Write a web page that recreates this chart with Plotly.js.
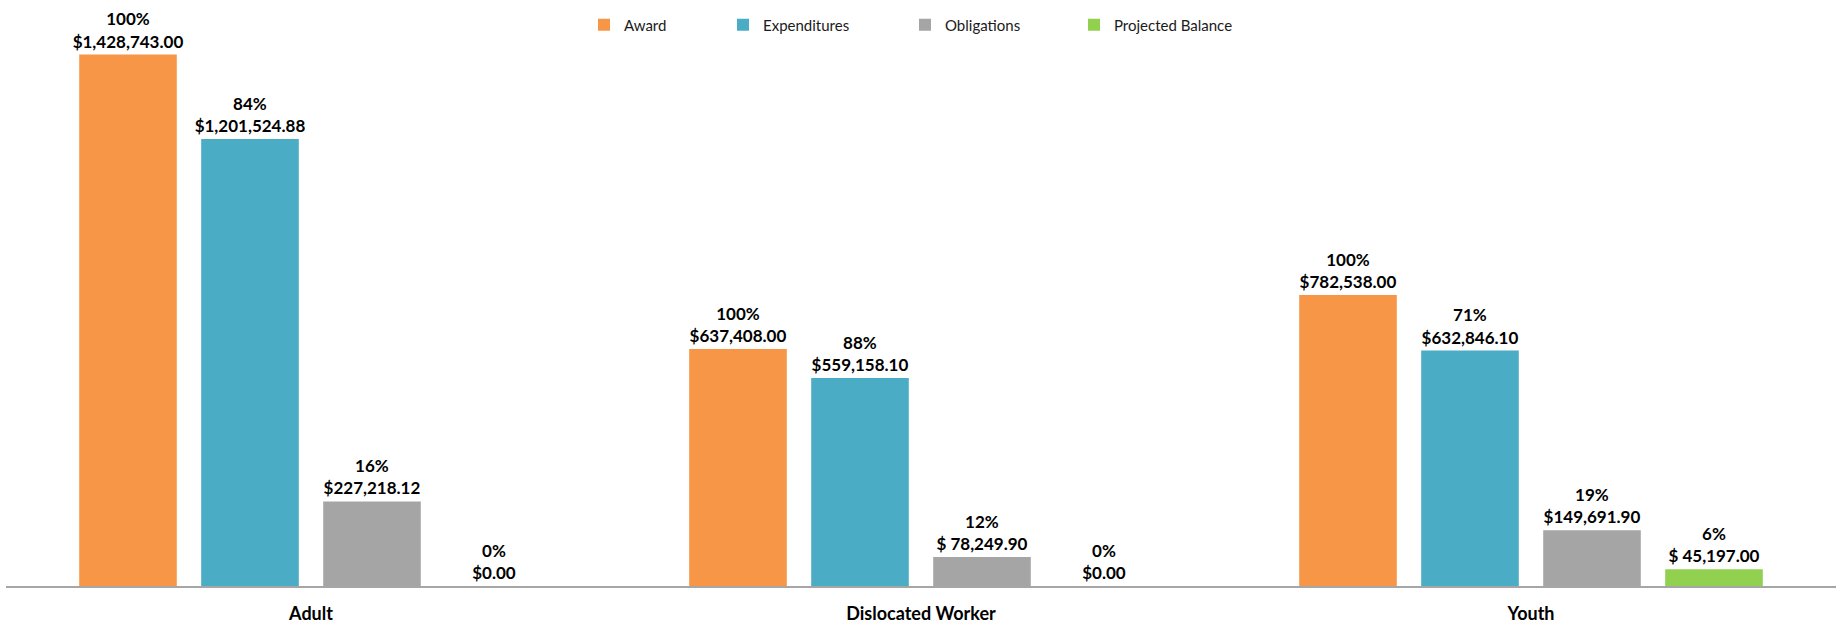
<!DOCTYPE html>
<html>
<head>
<meta charset="utf-8">
<script src="https://cdn.plot.ly/plotly-3.0.1.min.js"></script>
<style>html,body{margin:0;padding:0;background:#fff;}#chart{width:1839px;height:626px;}</style>
</head>
<body>
<div id="chart"></div>
<script>
const categories = ['Adult', 'Dislocated Worker', 'Youth'];
const seriesNames = ['Award', 'Expenditures', 'Obligations', 'Projected Balance'];
const award = [1428743.00, 637408.00, 782538.00];
const expenditures = [1201524.88, 559158.10, 632846.10];
const obligations = [227218.12, 78249.90, 149691.90];
const projectedBalance = [0.00, 0.00, 45197.00];
const awardPct = ['100%', '100%', '100%'];
const expendituresPct = ['84%', '88%', '71%'];
const obligationsPct = ['16%', '12%', '19%'];
const projectedBalancePct = ['0%', '0%', '6%'];
const awardLbl = ['$1,428,743.00', '$637,408.00', '$782,538.00'];
const expendituresLbl = ['$1,201,524.88', '$559,158.10', '$632,846.10'];
const obligationsLbl = ['$227,218.12', '$ 78,249.90', '$149,691.90'];
const projectedBalanceLbl = ['$0.00', '$0.00', '$ 45,197.00'];

const colors = ['#F79646', '#4BACC6', '#A5A5A5', '#92D050'];
const values = [award, expenditures, obligations, projectedBalance];
const pcts = [awardPct, expendituresPct, obligationsPct, projectedBalancePct];
const lbls = [awardLbl, expendituresLbl, obligationsLbl, projectedBalanceLbl];
const legendIds = ['legend', 'legend2', 'legend3', 'legend4'];

const FONT = 'Lato, "Open Sans", sans-serif';
const traces = values.map((v, i) => ({
  type: 'bar',
  name: seriesNames[i],
  x: categories,
  y: v,
  marker: {color: colors[i]},
  text: v.map((_, j) => pcts[i][j] + '<br>' + lbls[i][j]),
  textposition: 'outside',
  constraintext: 'none',
  textangle: 0,
  cliponaxis: false,
  textfont: {family: FONT, size: 17, color: '#000', weight: 'bold'},
  hoverinfo: 'x+y',
  legend: legendIds[i]
}));

// legend left edges in pixels
const legendPx = [584, 723, 905, 1074];
const L = 6, R = 3, W = 1839;
const pw = W - L - R;
function legendAt(px) {
  return {orientation: 'h', x: (px - L) / pw, xanchor: 'left', y: 1.0054, yanchor: 'middle',
    font: {family: FONT, size: 15, color: '#1a1a1a'}, bgcolor: 'rgba(0,0,0,0)'};
}

const layout = {
  width: 1839, height: 626,
  margin: {l: L, r: R, t: 28, b: 40},
  paper_bgcolor: '#fff', plot_bgcolor: '#fff',
  barmode: 'group', bargap: 0.2, bargroupgap: 0.2,
  showlegend: true,
  legend: legendAt(legendPx[0]),
  legend2: legendAt(legendPx[1]),
  legend3: legendAt(legendPx[2]),
  legend4: legendAt(legendPx[3]),
  xaxis: {
    showline: true, linecolor: '#a6a6a6', linewidth: 1.5,
    ticks: '', showgrid: false, zeroline: false,
    tickfont: {family: FONT, size: 18, color: '#000', weight: 'bold'},
    ticklabelstandoff: 11
  },
  yaxis: {range: [0, 1500000], visible: false, showgrid: false, zeroline: false},
  font: {family: FONT}
};

Plotly.newPlot('chart', traces, layout, {displayModeBar: false, staticPlot: true});
</script>
</body>
</html>
